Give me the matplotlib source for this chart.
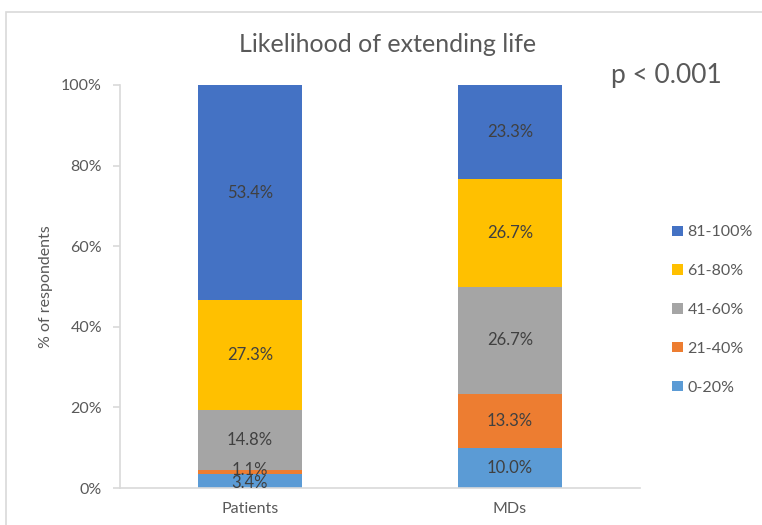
import matplotlib.pyplot as plt
from matplotlib.patches import Rectangle

plt.rcParams['font.family'] = ['Lato', 'DejaVu Sans']

groups = ['Patients', 'MDs']
bins = ['0-20%', '21-40%', '41-60%', '61-80%', '81-100%']
patients = [3.4, 1.1, 14.8, 27.3, 53.4]
mds = [10.0, 13.3, 26.7, 26.7, 23.3]
colors = ['#5B9BD5', '#ED7D31', '#A5A5A5', '#FFC000', '#4472C4']
yticks = [0, 20, 40, 60, 80, 100]

grey = '#595959'
axis_col = '#D9D9D9'

fig = plt.figure(figsize=(7.62, 5.25), dpi=100)
ax = fig.add_axes([120 / 762, 1 - 488 / 525, 520 / 762, 403 / 525])

# outer chart border
fig.patches.append(Rectangle((6 / 762, -0.01), 1.0, 1 - 12 / 525 + 0.01,
                             transform=fig.transFigure, fill=False,
                             edgecolor=axis_col, linewidth=1.2))

x = [0, 1]
bottoms = [0, 0]
for i, lab in enumerate(bins):
    vals = [patients[i], mds[i]]
    ax.bar(x, vals, width=0.4, bottom=bottoms, color=colors[i], label=lab)
    for xi, v, bt in zip(x, vals, bottoms):
        y = bt + v / 2
        if v < 2:
            y = bt + v / 2 + 0.6
        if v < 4 and i == 0:
            y = bt + v / 2 - 0.5
        ax.text(xi, y, f'{v:.1f}%', ha='center', va='center', fontsize=12, color='#404040')
    bottoms = [bottoms[0] + patients[i], bottoms[1] + mds[i]]

ax.set_xlim(-0.5, 1.5)
ax.set_ylim(0, 100)
ax.set_xticks(x)
ax.set_xticklabels(groups, fontsize=11.5, color=grey)
ax.set_yticks(yticks)
ax.set_yticklabels([f'{t}%' for t in yticks], fontsize=11.5, color=grey)
ax.tick_params(axis='x', length=0, pad=10)
ax.tick_params(axis='y', length=5, color=axis_col, width=1.2, pad=8)
for s in ['top', 'right']:
    ax.spines[s].set_visible(False)
for s in ['left', 'bottom']:
    ax.spines[s].set_color(axis_col)
    ax.spines[s].set_linewidth(1.2)

ax.set_ylabel('% of respondents', fontsize=11.5, color=grey, labelpad=6)

fig.text(388 / 762, 1 - 45 / 525, 'Likelihood of extending life',
         ha='center', va='center', fontsize=18, color=grey)
fig.text(666 / 762, 1 - 76 / 525, 'p < 0.001', ha='center', va='center',
         fontsize=19, color=grey)

handles, labels = ax.get_legend_handles_labels()
leg = fig.legend(handles[::-1], labels[::-1], loc='center left',
                 bbox_to_anchor=(658 / 762, 1 - 310 / 525), frameon=False,
                 fontsize=11.5, handlelength=0.65, handleheight=0.65,
                 handletextpad=0.3, labelspacing=1.55)
for t in leg.get_texts():
    t.set_color(grey)

fig.savefig('out.png', dpi=100)
